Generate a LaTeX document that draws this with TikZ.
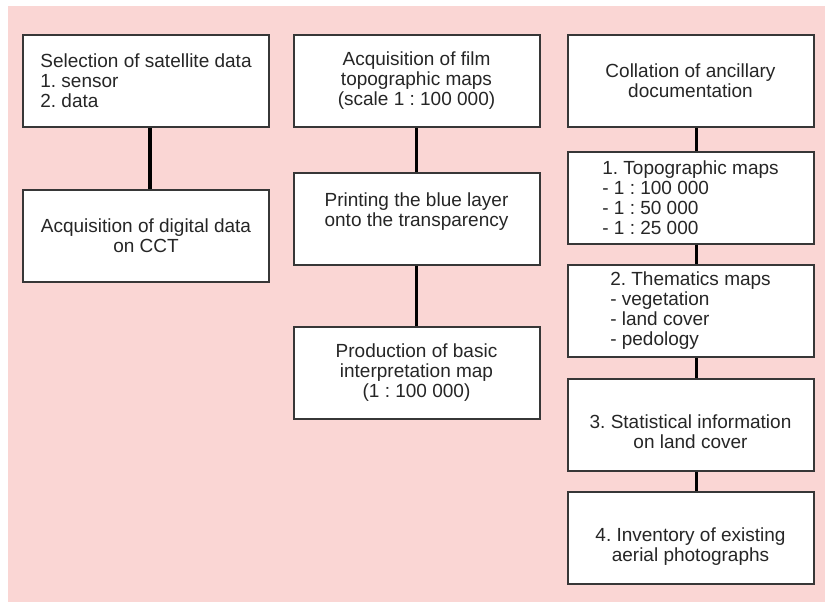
\documentclass[tikz,border=0pt]{standalone}
\usepackage{fontspec}
\setmainfont{Liberation Sans}
\usepackage{tikz}
\definecolor{bgpink}{RGB}{250,214,212}
\definecolor{boxline}{RGB}{55,55,55}
\frenchspacing

\begin{document}
\begin{tikzpicture}[x=1pt,y=-1pt,
  stepbox/.style={draw=boxline, line width=2pt, fill=white, rectangle,
    minimum width=246pt, minimum height=92pt, inner sep=2pt,
    text=black!85, font=\fontsize{19}{20}\selectfont},
  link/.style={line width=3.5pt, black}]
\useasboundingbox (0,0) rectangle (825,602);
\fill[bgpink] (8,6) rectangle (825,602);

% first column
\node (A1) at (146,81) [stepbox, align=left] {Selection of satellite data\\1. sensor\\2. data};
\node (A2) at (146,235.5) [stepbox, align=center] {Acquisition of digital data\\on CCT};

% second column
\node (B1) at (416.5,81) [stepbox, align=center] {Acquisition of film\\topographic maps\\(scale 1 : 100 000)};
\node (B2) at (416.5,219) [stepbox, align=center, text depth=18pt] {Printing the blue layer\\onto the transparency};
\node (B3) at (416.5,372.5) [stepbox, align=center] {Production of basic\\interpretation map\\(1 : 100 000)};

% third column
\node (C1) at (690.5,81) [stepbox, align=center] {Collation of ancillary\\documentation};
\node (C2) at (690.5,197.5) [stepbox, align=left] {1. Topographic maps\\- 1 : 100 000\\- 1 : 50 000\\- 1 : 25 000};
\node (C3) at (690.5,311) [stepbox, align=left] {2. Thematics maps\\- vegetation\\- land cover\\- pedology};
\node (C4) at (690.5,424.5) [stepbox, align=center, text height=48pt] {3. Statistical information\\on land cover};
\node (C5) at (690.5,538) [stepbox, align=center, text height=50pt] {4. Inventory of existing\\aerial photographs};

\draw[link] ([xshift=4pt]A1.south) -- ([xshift=4pt]A2.north);
\draw[link] (B1) -- (B2);
\draw[link] (B2) -- (B3);
\foreach \a/\b in {C1/C2,C2/C3,C3/C4,C4/C5}
  \draw[link] ([xshift=6pt]\a.south) -- ([xshift=6pt]\b.north);
\end{tikzpicture}
\end{document}
